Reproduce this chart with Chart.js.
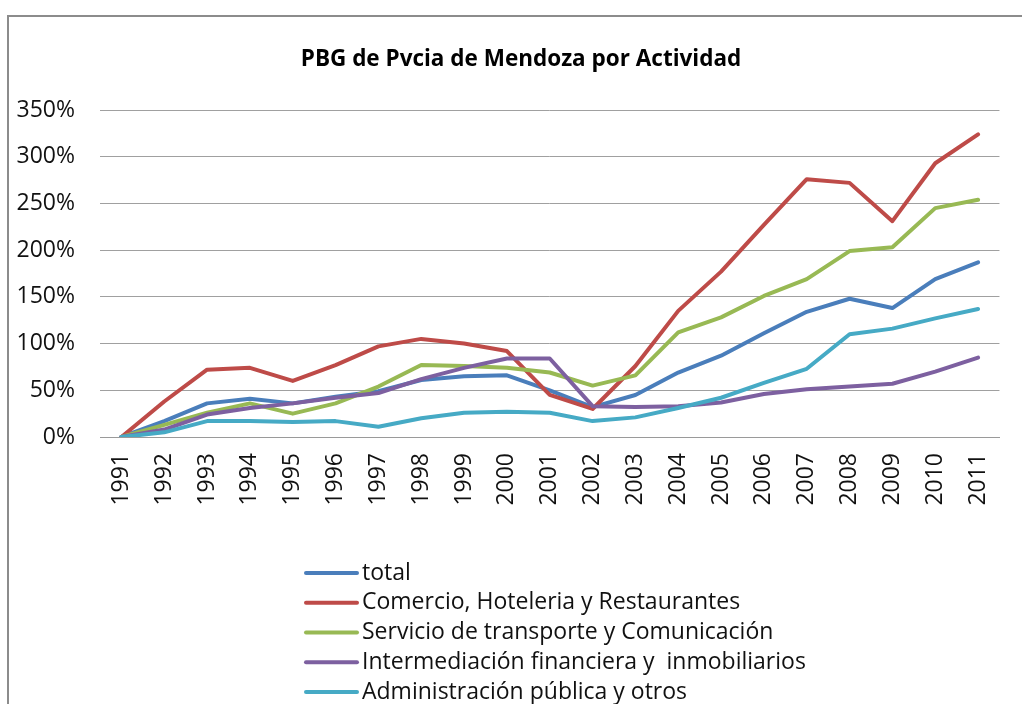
<!DOCTYPE html>
<html>
<head>
<meta charset="utf-8">
<script src="https://cdn.jsdelivr.net/npm/chart.js@4"></script>
<style>
  html, body { margin: 0; padding: 0; background: #fff; }
  canvas { display: block; }
</style>
</head>
<body>
<canvas id="c" width="1022" height="704"></canvas>
<script>
const title = 'PBG de Pvcia de Mendoza por Actividad';
const years = ['1991','1992','1993','1994','1995','1996','1997','1998','1999','2000','2001','2002','2003','2004','2005','2006','2007','2008','2009','2010','2011'];
const seriesNames = ['total', 'Comercio, Hoteleria y Restaurantes', 'Servicio de transporte y Comunicación', 'Intermediación financiera y  inmobiliarios', 'Administración pública y otros'];
const total       = [0, 17, 36, 41, 36, 43, 49, 61, 65, 66, 50, 32, 45, 69, 87, 111, 134, 148, 138, 169, 187];
const comercio    = [0, 38, 72, 74, 60, 77, 97, 105, 100, 92, 45, 30, 76, 135, 177, 227, 276, 272, 231, 293, 324];
const transporte  = [0, 13, 26, 36, 25, 36, 54, 77, 76, 74, 69, 55, 66, 112, 128, 151, 169, 199, 203, 245, 254];
const financiera  = [0, 8, 24, 31, 36, 42, 47, 62, 74, 84, 84, 33, 32, 33, 37, 46, 51, 54, 57, 70, 85];
const admin       = [0, 5, 17, 17, 16, 17, 11, 20, 26, 27, 26, 17, 21, 31, 42, 58, 73, 110, 116, 127, 137];
const yTicks = [0, 50, 100, 150, 200, 250, 300, 350];

const colors = ['#4A7EBB', '#BE4B48', '#98B954', '#7D60A0', '#46AAC5'];
const values = [total, comercio, transporte, financiera, admin];
const FONT = '"Open Sans", "DejaVu Sans", sans-serif';

const framePlugin = {
  id: 'frame',
  afterLayout(chart) {
    // centre the title over the framed chart object rather than the canvas
    if (chart.titleBlock) { chart.titleBlock.left = 34; }
  },
  beforeDraw(chart) {
    const ctx = chart.ctx;
    ctx.save();
    ctx.fillStyle = '#ffffff';
    ctx.fillRect(0, 0, chart.width, chart.height);
    ctx.strokeStyle = '#8c8c8c';
    ctx.lineWidth = 2;
    ctx.beginPath();
    ctx.moveTo(8, chart.height + 10);
    ctx.lineTo(8, 16);
    ctx.lineTo(chart.width + 10, 16);
    ctx.stroke();
    ctx.restore();
  }
};

const legendPlugin = {
  id: 'vlegend',
  afterDraw(chart) {
    const ctx = chart.ctx;
    ctx.save();
    ctx.font = '23px ' + FONT;
    ctx.textBaseline = 'middle';
    ctx.textAlign = 'left';
    chart.data.datasets.forEach((ds, i) => {
      const y = 573 + i * 29.75;
      ctx.strokeStyle = ds.borderColor;
      ctx.lineWidth = 4;
      ctx.lineCap = 'round';
      ctx.beginPath();
      ctx.moveTo(306, y);
      ctx.lineTo(357, y);
      ctx.stroke();
      ctx.fillStyle = '#111';
      ctx.fillText(ds.label, 362, y);
    });
    ctx.restore();
  }
};

new Chart(document.getElementById('c'), {
  type: 'line',
  data: {
    labels: years,
    datasets: values.map((v, i) => ({
      label: seriesNames[i],
      data: v,
      borderColor: colors[i],
      backgroundColor: colors[i],
      borderWidth: 4,
      pointRadius: 0,
      tension: 0,
      borderJoinStyle: 'round',
      borderCapStyle: 'round',
      order: values.length - i
    }))
  },
  options: {
    responsive: false,
    devicePixelRatio: 1,
    animation: false,
    layout: { padding: { top: 15, left: 0, right: 14, bottom: 187 } },
    plugins: {
      legend: { display: false },
      tooltip: { enabled: false },
      title: {
        display: true,
        text: title,
        color: '#000',
        font: { family: FONT, size: 22.5, weight: 'bold' },
        padding: { top: 31, bottom: 37 }
      }
    },
    scales: {
      x: {
        offset: true,
        grid: { display: false, drawTicks: false },
        border: { display: true, color: '#9a9a9a', width: 1 },
        ticks: {
          autoSkip: false,
          maxRotation: 90,
          minRotation: 90,
          padding: 16,
          color: '#111',
          font: { family: FONT, size: 23 }
        },
        afterFit(scale) { scale.height = 80; }
      },
      y: {
        min: 0,
        max: 350,
        afterBuildTicks(scale) { scale.ticks = yTicks.map(v => ({ value: v })); },
        grid: { color: '#a0a0a0', lineWidth: 1, drawTicks: false },
        border: { display: false },
        ticks: {
          padding: 25,
          color: '#111',
          font: { family: FONT, size: 23 },
          callback: v => v + '%'
        },
        afterFit(scale) { scale.width = 100; }
      }
    }
  },
  plugins: [framePlugin, legendPlugin]
});
</script>
</body>
</html>
